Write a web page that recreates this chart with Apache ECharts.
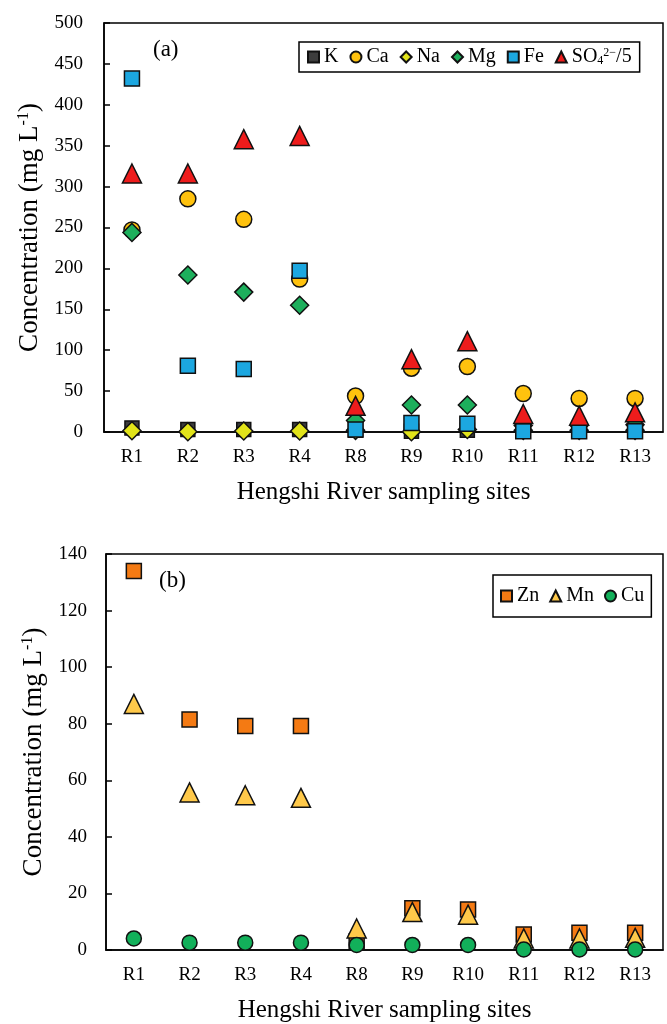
<!DOCTYPE html>
<html lang="en">
<head>
    <meta charset="UTF-8">
    <title>Hengshi River</title>
    <script src="https://cdn.jsdelivr.net/npm/echarts@6/dist/echarts.min.js"></script>
    <style>
        html, body { margin: 0; padding: 0; background: #fff; }
        #container { width: 667px; height: 1024px; }
    </style>
</head>
<body>
<div id="container"></div>

<script type="text/javascript">
    // sampling sites
    var sites = ['R1', 'R2', 'R3', 'R4', 'R8', 'R9', 'R10', 'R11', 'R12', 'R13'];

    // panel (a) - major ions, mg/L (SO4 already divided by 5)
    var kVals  = [5, 3, 3, 3, 2, 1, 2, 1, 1, 1];
    var caVals = [247, 285, 260, 187, 44, 78, 80, 47, 41, 41];
    var naVals = [1.5, 0.3, 1.2, 1.2, 2, 0.3, 3, 2, 2, 2];
    var mgVals = [244, 192, 171, 155, 14, 33, 33, 8, 8, 9];
    var feVals = [432, 81, 77, 197, 3, 11, 10, 1, 1, 1];
    var so4Vals = [316, 316, 358, 362, 32, 89, 111, 22, 20, 24];

    // panel (b) - metals, mg/L
    var znVals = [134, 81.5, 79.2, 79.2, 3, 14.8, 14.3, 5.5, 6.1, 6.1];
    var mnVals = [87, 55.7, 54.7, 53.8, 7.6, 13.4, 12.5, 4.1, 4.1, 4.3];
    var cuVals = [4.1, 2.6, 2.6, 2.6, 1.8, 1.8, 1.8, 0.2, 0.2, 0.2];

    var FONT = '"Liberation Serif", "Times New Roman", serif';

    var chart = echarts.init(document.getElementById('container'), null, { renderer: 'canvas' });

    function xAx(gi) {
        return {
            type: 'category', gridIndex: gi, data: sites, boundaryGap: true,
            name: 'Hengshi River sampling sites', nameLocation: 'middle', nameGap: 48,
            nameTextStyle: { fontFamily: FONT, fontSize: 25, color: '#000' },
            axisLine: { lineStyle: { color: '#000', width: 1.5 } },
            axisTick: { inside: true, length: 5, lineStyle: { color: '#000', width: 1.5 } },
            axisLabel: { fontFamily: FONT, fontSize: 19, color: '#000', margin: 16, interval: 0 },
            splitLine: { show: false }
        };
    }
    function yAx(gi, max, step, gap, margin) {
        return {
            type: 'value', gridIndex: gi, min: 0, max: max, interval: step,
            name: 'Concentration (mg L{sup|-1})', nameLocation: 'middle', nameGap: gap,
            nameTextStyle: {
                fontFamily: FONT, fontSize: 27, color: '#000',
                rich: { sup: { fontFamily: FONT, fontSize: 16, color: '#000', verticalAlign: 'top', padding: [0, 0, 12, 0] } }
            },
            axisLine: { show: true, lineStyle: { color: '#000', width: 1.5 } },
            axisTick: { show: true, inside: true, length: 6, lineStyle: { color: '#000', width: 1.5 } },
            axisLabel: { fontFamily: FONT, fontSize: 19, color: '#000', margin: margin },
            splitLine: { show: false }
        };
    }
    function pts(name, gi, vals, symbol, size, color) {
        return {
            name: name, type: 'scatter', xAxisIndex: gi, yAxisIndex: gi,
            data: vals, symbol: symbol, symbolSize: size, clip: false,
            itemStyle: { color: color, borderColor: '#111', borderWidth: 1.5, opacity: 1 }
        };
    }

    var legendText = {
        fontFamily: FONT, fontSize: 20, color: '#000',
        rich: {
            n: { fontFamily: FONT, fontSize: 20, color: '#000' },
            sub: { fontFamily: FONT, fontSize: 12, color: '#000', verticalAlign: 'bottom', padding: [8, 0, 0, 0] },
            sup: { fontFamily: FONT, fontSize: 12, color: '#000', verticalAlign: 'top', padding: [0, 0, 8, 0] }
        }
    };

    var option = {
        animation: false,
        backgroundColor: '#fff',
        grid: [
            { left: 104, top: 23, right: 4, height: 409, show: true, borderColor: '#000', borderWidth: 1.5 },
            { left: 106, top: 554, right: 4, height: 399, show: true, borderColor: '#000', borderWidth: 1.5 }
        ],
        xAxis: [xAx(0), xAx(1)],
        yAxis: [yAx(0, 500, 50, 58, 21), yAx(1, 140, 20, 54, 19)],
        legend: [
            {
                data: ['K', 'Ca', 'Na', 'Mg', 'Fe', 'SO4'],
                left: 299, top: 42, orient: 'horizontal',
                padding: [5, 8, 5, 8], itemGap: 11, itemWidth: 11, itemHeight: 11,
                borderColor: '#000', borderWidth: 1.5, borderRadius: 0,
                textStyle: legendText,
                formatter: function (n) {
                    if (n === 'SO4') return '{n|SO}{sub|4}{sup|2−}{n|/5}';
                    return '{n|' + n + '}';
                }
            },
            {
                data: ['Zn', 'Mn', 'Cu'],
                left: 493, top: 575, orient: 'horizontal',
                padding: [11, 7, 11, 7], itemGap: 10, itemWidth: 11, itemHeight: 11,
                borderColor: '#000', borderWidth: 1.5, borderRadius: 0,
                textStyle: legendText,
                formatter: function (n) { return '{n|' + n + '}'; }
            }
        ],
        graphic: [
            { type: 'text', left: 153, top: 38, style: { text: '(a)', fontFamily: FONT, fontSize: 23, fill: '#000' } },
            { type: 'text', left: 159, top: 569, style: { text: '(b)', fontFamily: FONT, fontSize: 23, fill: '#000' } }
        ],
        series: [
            pts('K', 0, kVals, 'rect', 14, '#3d3d3d'),
            pts('Ca', 0, caVals, 'circle', 16, '#FFC20E'),
            pts('Na', 0, naVals, 'diamond', 18, '#E2E41A'),
            pts('Mg', 0, mgVals, 'diamond', 18, '#1DAF5C'),
            pts('Fe', 0, feVals, 'rect', 15, '#1CA7E0'),
            pts('SO4', 0, so4Vals, 'triangle', 19, '#EE1C1C'),
            pts('Zn', 1, znVals, 'rect', 15, '#F47A13'),
            pts('Mn', 1, mnVals, 'triangle', 19, '#FFC94A'),
            pts('Cu', 1, cuVals, 'circle', 15, '#12B05A')
        ]
    };

    chart.setOption(option);
</script>
</body>
</html>
